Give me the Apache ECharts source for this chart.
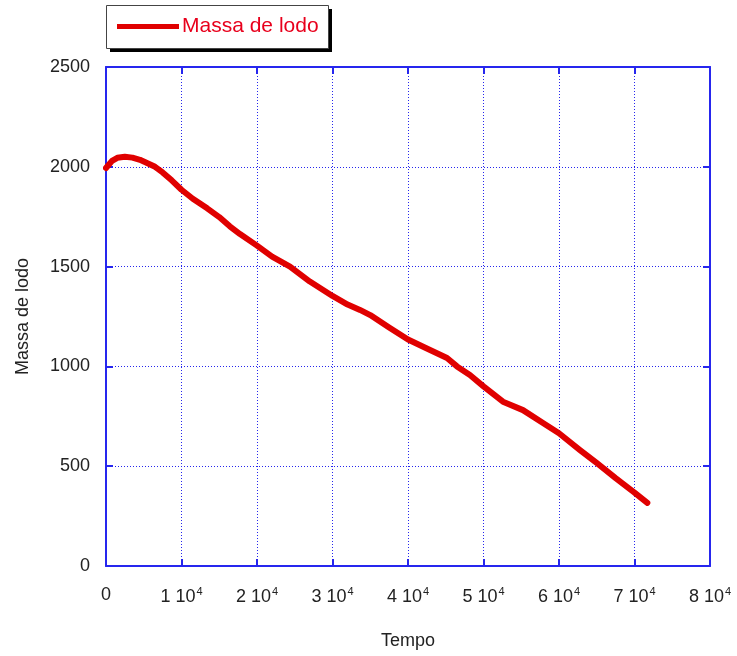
<!DOCTYPE html>
<html>
<head>
<meta charset="utf-8">
<script src="https://cdn.jsdelivr.net/npm/echarts@6/dist/echarts.min.js"></script>
<style>
html,body{margin:0;padding:0;background:#fff;}
#chart{width:737px;height:656px;}
</style>
</head>
<body>
<div id="chart"></div>
<script>
var seriesName = 'Massa de lodo';
var tempo = [0, 800, 1500, 2500, 3500, 4500, 5500, 6500, 7500, 8700, 10000, 11500, 13400, 15000, 16400, 17750, 20000, 22000, 24370, 27000, 30000, 32000, 33640, 35000, 37500, 40000, 42500, 45170, 46490, 48200, 50000, 52580, 55230, 57880, 60000, 62780, 65030, 67500, 70000, 71700];
var massa = [1994, 2030, 2045, 2050, 2046, 2035, 2018, 2000, 1972, 1932, 1885, 1840, 1792, 1748, 1702, 1663, 1605, 1550, 1500, 1425, 1353, 1310, 1283, 1257, 1195, 1135, 1090, 1042, 1000, 957, 900, 823, 781, 716, 665, 581, 515, 440, 368, 316];
var xTicks = [0, 10000, 20000, 30000, 40000, 50000, 60000, 70000, 80000];
var yTicks = [0, 500, 1000, 1500, 2000, 2500];

var blue = '#2626ee';
var font = 'Liberation Sans, Arial, sans-serif';
var data = tempo.map(function (t, i) { return [t, massa[i]]; });

function boxAxis(extra) {
  var base = {
    axisLine: { show: true, onZero: false, lineStyle: { color: blue, width: 2 } },
    axisTick: { show: true, inside: true, length: 7, lineStyle: { color: blue, width: 2 } }
  };
  for (var k in extra) base[k] = extra[k];
  return base;
}

var chart = echarts.init(document.getElementById('chart'));
chart.setOption({
  animation: false,
  backgroundColor: '#fff',
  graphic: [
    { type: 'rect', z: 1, left: 110, top: 9, shape: { width: 222, height: 43 }, style: { fill: '#000' } },
    { type: 'rect', z: 2, left: 106, top: 5, shape: { width: 222, height: 43 }, style: { fill: '#fff', stroke: '#444', lineWidth: 1 } }
  ],
  legend: {
    data: [seriesName],
    left: 117,
    top: 16,
    padding: 0,
    z: 10,
    icon: 'rect',
    itemWidth: 62,
    itemHeight: 5,
    textStyle: { color: '#e8001c', fontSize: 21, fontFamily: font, padding: [0, 0, 0, -2] }
  },
  grid: { left: 106, right: 27, top: 67, bottom: 90 },
  xAxis: [boxAxis({
    type: 'value', position: 'bottom',
    min: xTicks[0], max: xTicks[xTicks.length - 1], interval: 10000,
    name: 'Tempo', nameLocation: 'middle', nameGap: 66,
    nameTextStyle: { color: '#222', fontSize: 18, fontFamily: font },
    splitLine: { show: true, lineStyle: { color: blue, width: 1, type: [1, 2] } },
    axisLabel: {
      margin: 20,
      color: '#222',
      fontFamily: font,
      fontSize: 18,
      formatter: function (v) {
        if (v === 0) return '{n|0}';
        return '{n|' + (v / 10000) + ' 10}{s|4}';
      },
      rich: {
        n: { fontSize: 18, fontFamily: font, color: '#222' },
        s: { fontSize: 11, fontFamily: font, color: '#222', padding: [0, 0, 12, 1] }
      }
    }
  }), boxAxis({
    type: 'value', position: 'top',
    min: xTicks[0], max: xTicks[xTicks.length - 1], interval: 10000,
    axisLabel: { show: false },
    splitLine: { show: false }
  })],
  yAxis: [boxAxis({
    type: 'value', position: 'left',
    min: yTicks[0], max: yTicks[yTicks.length - 1], interval: 500,
    name: seriesName, nameLocation: 'middle', nameGap: 74, nameRotate: 90,
    nameTextStyle: { color: '#222', fontSize: 18, fontFamily: font },
    splitLine: { show: true, lineStyle: { color: blue, width: 1, type: [1, 2] } },
    axisLabel: { margin: 16, color: '#222', fontSize: 18, fontFamily: font,
      formatter: function (v) { return String(v); } }
  }), boxAxis({
    type: 'value', position: 'right',
    min: yTicks[0], max: yTicks[yTicks.length - 1], interval: 500,
    axisLabel: { show: false },
    splitLine: { show: false }
  })],
  series: [{
    name: seriesName,
    type: 'line',
    data: data,
    showSymbol: false,
    symbol: 'none',
    smooth: false,
    color: '#e00000',
    lineStyle: { color: '#e00000', width: 6, cap: 'round', join: 'round' }
  }]
});
</script>
</body>
</html>
